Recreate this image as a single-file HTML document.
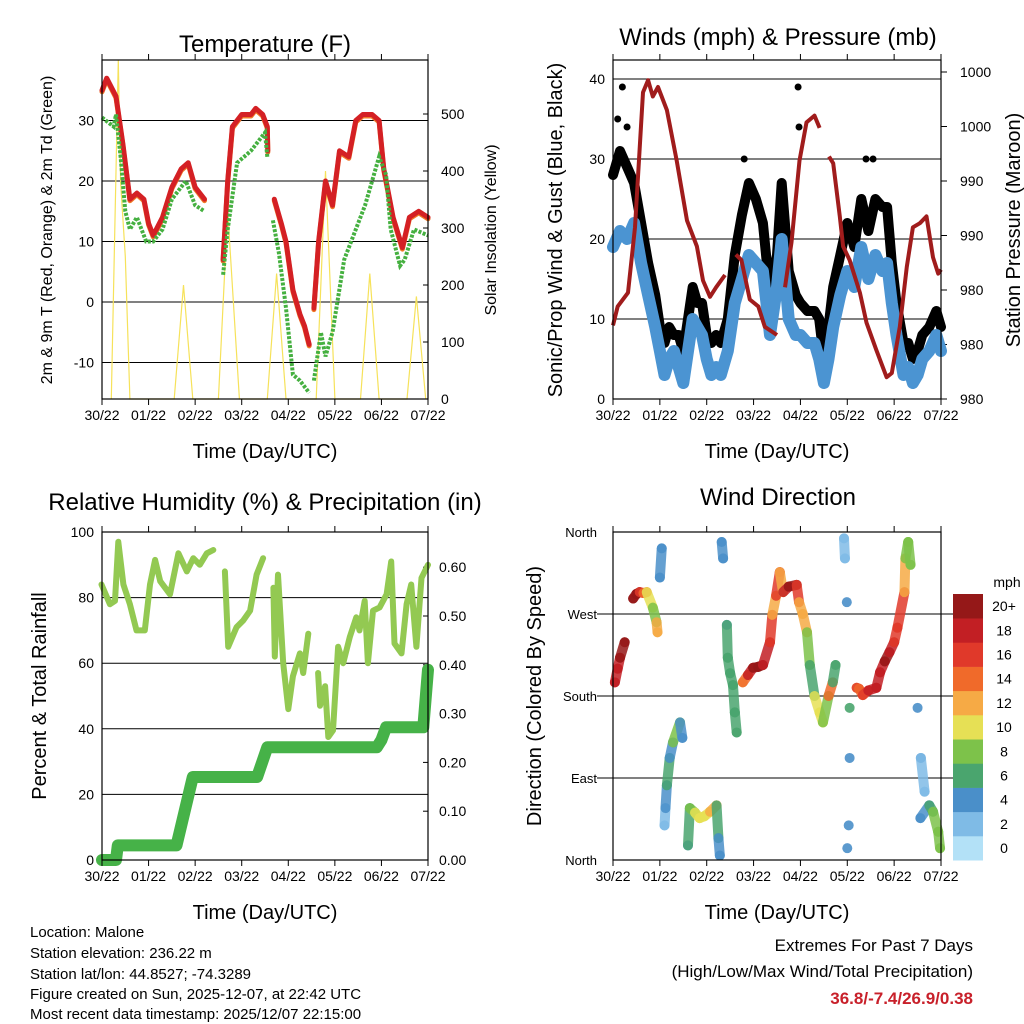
<!DOCTYPE html>
<html><head><meta charset="utf-8">
<style>
html,body{margin:0;padding:0;background:#fff;}
svg{display:block;font-family:"Liberation Sans",Arial,sans-serif;}
</style></head>
<body>
<svg id="fig" width="1024" height="1024" viewBox="0 0 1024 1024" xmlns="http://www.w3.org/2000/svg">
<rect width="1024" height="1024" fill="#fff"/>
<g id="p1"></g>
<g id="p2"></g>
<g id="p3"></g>
<g id="p4"></g>
<g font-size="15" fill="#000">
<text x="30" y="937">Location: Malone</text>
<text x="30" y="958">Station elevation: 236.22 m</text>
<text x="30" y="979">Station lat/lon: 44.8527; -74.3289</text>
<text x="30" y="999">Figure created on Sun, 2025-12-07, at 22:42 UTC</text>
<text x="30" y="1019">Most recent data timestamp: 2025/12/07 22:15:00</text>
</g>
<g text-anchor="end">
<text x="973" y="951" font-size="17">Extremes For Past 7 Days</text>
<text x="973" y="977" font-size="17">(High/Low/Max Wind/Total Precipitation)</text>
<text x="973" y="1004" font-size="17" font-weight="bold" fill="#c8202a">36.8/-7.4/26.9/0.38</text>
</g>
</svg>
<script>
// ---------- DATA ----------
const dayLabels=["30/22","01/22","02/22","03/22","04/22","05/22","06/22","07/22"];
// Temperature (F)
const tempT=[0,0.1,0.3,0.45,0.6,0.75,0.9,1.0,1.1,1.3,1.5,1.7,1.85,2.0,2.2,null,2.6,2.7,2.8,3.0,3.2,3.3,3.45,3.55,3.56,null,3.7,3.85,3.95,4.1,4.25,4.35,4.45,null,4.55,4.65,4.8,4.95,5.1,5.3,5.45,5.6,5.8,5.95,6.05,6.25,6.45,6.6,6.8,7.0];
const tempV=[35,37,34,26,17,18,17,13,11,14,19,22,23,19,17,null,7,20,29,31,31,32,31,29,25,null,17,13,10,2,-2,-4,-7,null,-1,10,20,16,25,24,30,31,31,30,22,14,9,14,15,14];
const dewT=[0,0.25,0.3,0.4,0.5,0.6,0.75,0.95,1.1,1.3,1.5,1.8,2.0,2.2,null,2.6,2.7,2.9,3.2,3.4,3.5,3.55,null,3.67,3.8,3.95,4.1,4.25,4.45,null,4.55,4.7,4.8,4.95,5.2,5.5,5.65,5.8,5.95,6.1,6.2,6.4,6.5,6.7,7.0];
const dewV=[30.5,29,31,24,15,12,14,10,10,12,17,20,16,15,null,4.5,12,23,25,27,28,24,null,13.5,8,-1,-12,-13,-15,null,-13,-5,-9,-5,7,13,16,20,24,21,12,6,7,12,11];
const solarT=[0.2,0.35,0.4,0.5,0.6,0.75,1.55,1.75,1.95,2.5,2.7,2.95,3.55,3.75,3.95,4.6,4.8,5.0,5.55,5.75,5.95,6.55,6.75,6.95];
const solarV=[0,595,380,250,0,0,0,200,0,0,330,0,0,220,0,0,400,0,0,220,0,0,180,0];
// Winds (mph)
const windT=[0,0.15,0.3,0.45,0.6,0.75,0.9,1.0,1.1,1.2,1.3,1.4,1.5,1.6,1.7,1.8,1.9,2.0,2.1,2.2,2.3,2.45,2.6,2.75,2.9,3.05,3.2,3.35,3.5,3.6,3.75,3.9,4.0,4.15,4.3,4.4,4.5,4.6,4.7,4.85,5.0,5.15,5.3,5.45,5.6,5.75,5.85,5.95,6.05,6.2,6.3,6.4,6.5,6.6,6.75,6.9,7.0];
const windV=[19,21,20,22,17,13,9,6,3,5,6,4,2,6,10,9,8,5,3,4,3,6,12,15,18,17,16,8,14,20,10,8,8,7,7,5,2,5,9,13,16,14,19,15,18,16,17,12,8,3,4,2,3,5,6,8,6];
const gustV=[28,31,29,27,22,17,13,9,7,9,8,8,6,10,14,12,12,8,7,8,7,10,18,23,27,25,22,13,18,27,16,13,12,11,11,10,5,9,14,18,22,19,25,21,25,24,24,17,12,7,7,5,6,8,9,11,9];
const gustOutT=[0.2,0.3,0.1,3.95,3.97,2.8,5.4,5.55];
const gustOutV=[39,34,35,39,34,30,30,30];
// Pressure (mb)
const presT=[0,0.1,0.32,0.47,0.64,0.75,0.85,0.96,1.15,1.36,1.58,1.79,1.92,2.07,2.2,2.39,null,2.62,2.74,2.92,3.1,3.24,3.5,null,3.67,3.81,3.98,4.13,4.3,4.41,null,4.61,4.7,4.84,4.91,5.05,5.27,5.41,5.62,5.84,5.95,6.12,6.27,6.4,6.55,6.69,6.83,6.94,7.0];
const presV=[982.4,983.8,984.8,989.6,999.5,1000.4,999.2,999.9,998.2,994.5,990.1,988.2,985.7,984.5,985.2,986.1,null,987.6,987.2,984.3,983.8,982.3,981.7,null,985.2,988.5,994.5,997.3,997.8,996.9,null,994.8,994.3,990.4,988.2,987.2,984.8,982.6,980.6,978.6,978.9,982.3,986.7,989.6,989.9,990.4,987.4,986.2,986.5];
const presTickLabels=["980","980","980","990","990","1000","1000"];
const presTickVals=[977,981,985,989,993,997,1001];
// Relative humidity (%) and precipitation (in)
const rhT=[-0.01,0.17,0.28,0.35,0.46,0.6,0.74,0.92,1.03,1.14,1.25,1.46,1.64,1.82,1.96,2.1,2.25,2.39,null,2.64,2.71,2.89,3.03,3.18,3.32,3.46,null,3.68,3.71,3.78,3.89,4.0,4.1,4.25,4.32,4.43,null,4.64,4.68,4.79,4.86,4.96,5.07,5.18,5.32,5.46,5.53,5.64,5.71,5.82,5.96,6.11,6.21,6.28,6.43,6.54,6.64,6.75,6.86,7.0];
const rhV=[84,78,79,97,84,78,70,70,84,91.5,85,81,93.5,88,92,90,93.5,94.5,null,88,65,71,73,76,87,92,null,83,62,87,60,46,56,63,57,69,null,57,47,53,37.5,39.5,65,60,68,74,70,79,60,76,77,81,91,66,63,78,84,65,86,90];
const rainT=[0,0.3,0.34,1.6,1.95,3.33,3.55,5.9,6.0,6.1,6.9,7.0];
const rainV=[0,0,0.03,0.03,0.17,0.17,0.231,0.231,0.246,0.272,0.272,0.39];
// Wind direction (deg) and speed (mph)
const dirT=[0.04,0.1,0.15,0.25,0.43,0.5,0.57,0.65,0.72,0.85,0.93,0.95,1.0,1.04,1.1,1.12,1.15,1.21,1.28,1.43,1.48,1.6,1.64,1.75,1.85,1.95,2.07,2.21,2.25,2.28,2.32,2.35,2.43,2.45,2.5,2.56,2.6,2.64,2.77,2.88,2.99,3.1,3.2,3.35,3.4,3.48,3.56,3.63,3.75,3.92,3.97,4.05,4.14,4.2,4.3,4.41,4.48,4.6,4.69,4.75,4.93,4.95,4.99,5.05,5.05,5.03,5.0,5.2,5.25,5.33,5.45,5.62,5.7,5.8,5.9,6.0,6.07,6.22,6.24,6.3,6.35,6.5,6.57,6.65,6.56,6.75,6.83,6.94,6.98];
const dirV=[195,210,222,239,287,292,294,293,294,277,261,250,310,342,38,57,82,112,129,151,134,16,57,52,46,48,53,60,24,5,349,331,258,222,205,192,162,140,195,203,211,212,214,239,269,290,316,294,300,302,283,270,250,214,180,162,151,180,195,214,353,331,283,167,112,38,13,189,188,181,186,189,206,218,228,239,255,294,331,349,324,167,112,75,46,60,53,31,13];
const dirS=[18,18,18,20,20,20,20,16,14,10,8,12,4,4,2,2,4,6,4,8,4,4,6,8,10,10,10,12,6,4,4,4,4,6,6,6,6,6,12,14,18,20,20,18,16,12,16,12,18,20,16,12,12,8,6,10,10,8,14,6,2,2,4,6,4,4,4,12,16,14,16,18,18,18,20,18,16,16,12,8,8,4,4,2,4,4,6,8,8];
const cbLabels=["0","2","4","6","8","10","12","14","16","18","20+"];
const cbColors=["#b3e1f7","#7fbbe6","#4a8fc9","#4aa56e","#7dc24a","#e6e055","#f6aa45","#f06a2a","#e0392a","#c21f24","#951818"];

// ---------- HELPERS ----------
const NS="http://www.w3.org/2000/svg";
function mk(parent,tag,attrs,txt){const e=document.createElementNS(NS,tag);for(const k in attrs)e.setAttribute(k,attrs[k]);if(txt!==undefined)e.textContent=txt;parent.appendChild(e);return e;}
function pathFrom(ts,vs,fx,fy){let d="",pen=false;for(let i=0;i<ts.length;i++){if(ts[i]===null||vs[i]===null){pen=false;continue;}d+=(pen?"L":"M")+fx(ts[i]).toFixed(1)+","+fy(vs[i]).toFixed(1);pen=true;}return d;}
function frame(g,x0,x1,y0,y1,xs){
  const b=mk(g,"rect",{x:x0,y:y0,width:x1-x0,height:y1-y0,fill:"none",stroke:"#000","stroke-width":1.2});
  
  
  for(let i=0;i<dayLabels.length;i++){
    const x=xs(i);
    mk(g,"line",{x1:x,x2:x,y1:y1,y2:y1+6,stroke:"#000","stroke-width":1});
    mk(g,"line",{x1:x,x2:x,y1:y0,y2:y0-6,stroke:"#000","stroke-width":1});
    const t=mk(g,"text",{x:x,y:y1+21,"font-size":14,"text-anchor":"middle"},dayLabels[i]);
    
    
  }
  const xt=mk(g,"text",{x:(x0+x1)/2,y:y1+59,"font-size":20,"text-anchor":"middle"},"Time (Day/UTC)");
  
  
}
function hgrid(g,x0,x1,y){mk(g,"line",{x1:x0,x2:x1,y1:y,y2:y,stroke:"#000","stroke-width":1});}
function ylab(g,x,y,txt,size,name){const t=mk(g,"text",{x:x,y:y,"font-size":size,"text-anchor":"middle",transform:`rotate(-90 ${x} ${y})`},txt);}
function title(g,x,y,txt,name){const t=mk(g,"text",{x:x,y:y,"font-size":24,"text-anchor":"middle"},txt);}
function speedColor(s){let i=Math.round(s/2);if(i<0)i=0;if(i>10)i=10;return cbColors[i];}

// ---------- PANEL 1: Temperature ----------
(function(){
  const g=document.getElementById("p1");
  const X0=102,X1=428,Y0=60,Y1=399;
  const x=d=>X0+d*(X1-X0)/7;
  const yT=v=>302-v*6.05;
  const yS=v=>399-v*0.57;
  title(g,265,52,"Temperature (F)","temperature-title");
  [-10,0,10,20,30].forEach(v=>{hgrid(g,X0,X1,yT(v));
    const t=mk(g,"text",{x:X0-8,y:yT(v)+5,"font-size":14,"text-anchor":"end"},String(v));
    
    
    mk(g,"line",{x1:X0,x2:X0+5,y1:yT(v),y2:yT(v),stroke:"#000"});});
  [0,100,200,300,400,500].forEach(v=>{
    const t=mk(g,"text",{x:X1+13,y:yS(v)+5,"font-size":14},String(v));
    
    
    mk(g,"line",{x1:X1-5,x2:X1,y1:yS(v),y2:yS(v),stroke:"#000"});});
  const sol=mk(g,"path",{d:pathFrom(solarT,solarV,x,yS),fill:"none",stroke:"#f6e25a","stroke-width":1.2});
  
  
  const o=mk(g,"path",{d:pathFrom(tempT,tempV,x,v=>yT(v)+1.5),fill:"none",stroke:"#f07a28","stroke-width":5,"stroke-linejoin":"round","stroke-linecap":"round"});
  
  
  const r=mk(g,"path",{d:pathFrom(tempT,tempV,x,yT),fill:"none",stroke:"#d42024","stroke-width":5,"stroke-linejoin":"round","stroke-linecap":"round"});
  
  
  const dw=mk(g,"path",{d:pathFrom(dewT,dewV,x,yT),fill:"none",stroke:"#45b040","stroke-width":4,"stroke-dasharray":"3 1.5"});
  
  
  frame(g,X0,X1,Y0,Y1,i=>x(i));
  ylab(g,52,230,"2m & 9m T (Red, Orange) & 2m Td (Green)",16,"temperature-y-axis-title");
  ylab(g,496,230,"Solar Insolation (Yellow)",16,"solar-y-axis-title");
})();

// ---------- PANEL 2: Winds & Pressure ----------
(function(){
  const g=document.getElementById("p2");
  const X0=613,X1=941,Y0=60,Y1=399;
  const x=d=>X0+d*(X1-X0)/7;
  const yW=v=>399-v*8;
  const yP=p=>399-(p-977)*54.5/4;
  title(g,778,45,"Winds (mph) & Pressure (mb)","winds-title");
  [0,10,20,30,40].forEach(v=>{if(v>0)hgrid(g,X0,X1,yW(v));
    const t=mk(g,"text",{x:X0-8,y:yW(v)+5,"font-size":14,"text-anchor":"end"},String(v));
    
    });
  presTickVals.forEach((p,i)=>{
    mk(g,"line",{x1:X1,x2:X1+6,y1:yP(p),y2:yP(p),stroke:"#000"});
    const t=mk(g,"text",{x:X1+19,y:yP(p)+5,"font-size":14},presTickLabels[i]);
    
    });
  const gl=mk(g,"path",{d:pathFrom(windT,gustV,x,yW),fill:"none",stroke:"#000","stroke-width":10,"stroke-linejoin":"round","stroke-linecap":"round"});
  
  
  for(let i=0;i<gustOutT.length;i++){
    const c=mk(g,"circle",{cx:x(gustOutT[i]),cy:yW(gustOutV[i]),r:3.5,fill:"#000"});
    
    
  }
  const wl=mk(g,"path",{d:pathFrom(windT,windV,x,yW),fill:"none",stroke:"#4b94d2","stroke-width":12,"stroke-linejoin":"round","stroke-linecap":"round"});
  
  
  const pl=mk(g,"path",{d:pathFrom(presT,presV,x,yP),fill:"none",stroke:"#a01c1c","stroke-width":4,"stroke-linejoin":"round"});
  
  
  frame(g,X0,X1,Y0,Y1,i=>x(i));
  ylab(g,562,230,"Sonic/Prop Wind & Gust (Blue, Black)",20,"wind-y-axis-title");
  ylab(g,1020,230,"Station Pressure (Maroon)",20,"pressure-y-axis-title");
})();

// ---------- PANEL 3: RH & Precip ----------
(function(){
  const g=document.getElementById("p3");
  const X0=102,X1=428,Y0=532,Y1=860;
  const x=d=>X0+d*(X1-X0)/7;
  const yR=v=>860-v*3.28;
  const yP=v=>860-v*488;
  title(g,265,510,"Relative Humidity (%) & Precipitation (in)","humidity-title");
  [0,20,40,60,80,100].forEach(v=>{if(v>0&&v<100)hgrid(g,X0,X1,yR(v));
    const t=mk(g,"text",{x:X0-8,y:yR(v)+5,"font-size":14,"text-anchor":"end"},String(v));
    
    });
  [0,0.1,0.2,0.3,0.4,0.5,0.6].forEach(v=>{
    mk(g,"line",{x1:X1-5,x2:X1,y1:yP(v),y2:yP(v),stroke:"#000"});
    const t=mk(g,"text",{x:X1+11,y:yP(v)+5,"font-size":14},v.toFixed(2));
    
    });
  const rl=mk(g,"path",{d:pathFrom(rhT,rhV,x,yR),fill:"none",stroke:"#93c952","stroke-width":6,"stroke-linejoin":"round","stroke-linecap":"round"});
  
  
  const pl=mk(g,"path",{d:pathFrom(rainT,rainV,x,yP),fill:"none",stroke:"#46b248","stroke-width":12,"stroke-linejoin":"round","stroke-linecap":"round"});
  
  
  frame(g,X0,X1,Y0,Y1,i=>x(i));
  ylab(g,46,696,"Percent & Total Rainfall",20,"rh-y-axis-title");
})();

// ---------- PANEL 4: Wind Direction ----------
(function(){
  const g=document.getElementById("p4");
  const X0=613,X1=941,Y0=532,Y1=860;
  const x=d=>X0+d*(X1-X0)/7;
  const yD=v=>860-v*328/360;
  title(g,778,505,"Wind Direction","wind-direction-title");
  const names=["North","East","South","West","North"];
  [0,90,180,270,360].forEach((v,i)=>{if(v>0&&v<360)hgrid(g,X0-16,X1+12,yD(v));
    const t=mk(g,"text",{x:X0-16,y:yD(v)+5,"font-size":13,"text-anchor":"end"},names[i]);
    
    });
  for(let i=0;i<dirT.length;i++){
    const c=mk(g,"circle",{cx:x(dirT[i]),cy:yD(dirV[i]),r:5,fill:speedColor(dirS[i]),"fill-opacity":0.9});
    
    
    if(i>0&&Math.abs(dirV[i]-dirV[i-1])<45&&dirT[i]-dirT[i-1]<0.2&&dirT[i]>dirT[i-1]){
      const l=mk(g,"line",{x1:x(dirT[i-1]),y1:yD(dirV[i-1]),x2:x(dirT[i]),y2:yD(dirV[i]),stroke:speedColor(dirS[i]),"stroke-width":10,"stroke-linecap":"round","stroke-opacity":0.85});
      
      
    }
  }
  frame(g,X0,X1,Y0,Y1,i=>x(i));
  ylab(g,541,696,"Direction (Colored By Speed)",20,"direction-y-axis-title");
  const cb=mk(g,"g",{});
  
  
  const cbTop=594,cbH=24.2;
  for(let i=0;i<cbColors.length;i++){
    const yy=cbTop+(cbColors.length-1-i)*cbH;
    const r=mk(cb,"rect",{x:953,y:yy,width:30,height:cbH+0.3,fill:cbColors[i]});
    
    
    const t=mk(cb,"text",{x:1004,y:yy+cbH/2+5,"font-size":14,"text-anchor":"middle"},cbLabels[i]);
    
    
  }
  const u=mk(cb,"text",{x:1007,y:587,"font-size":14,"text-anchor":"middle"},"mph");
  
  
})();
</script>
</body></html>
